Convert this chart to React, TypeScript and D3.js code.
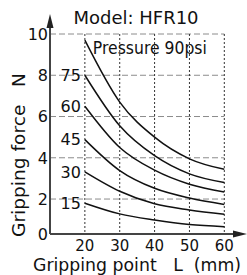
import { useEffect, useRef } from 'react';
import * as d3 from 'd3';

// gripping point L (mm) and force curves (N) per supply pressure (psi)
const gripPoints = [20, 30, 40, 50, 60];
const pressures = [90, 75, 60, 45, 30, 15];
const force90 = [9.7, 6.7, 5.0, 3.95, 3.44];
const force75 = [8.0, 5.55, 4.1, 3.22, 2.8];
const force60 = [6.5, 4.5, 3.4, 2.72, 2.34];
const force45 = [4.88, 3.38, 2.52, 2.05, 1.74];
const force30 = [3.32, 2.38, 1.77, 1.47, 1.26];
const force15 = [1.8, 1.28, 0.98, 0.76, 0.66];
const xTicks = [20, 30, 40, 50, 60];
const yTicks = [0, 2, 4, 6, 8, 10];

const FONT = '"DejaVu Sans", Verdana, sans-serif';

export default function App() {
  const ref = useRef<SVGSVGElement>(null);
  const width = 247;
  const height = 275;

  useEffect(() => {
    if (!ref.current) return;
    const svg = d3.select(ref.current);
    svg.selectAll('*').remove();

    const x = d3.scaleLinear().domain([10, 60]).range([50, 224.3]);
    const y = d3.scaleLinear().domain([0, 10]).range([240.3, 34]);
    const axisY = y(0.3); // x axis sits a bit above the 0 value in the original

    const series = [force90, force75, force60, force45, force30, force15];

    // horizontal dashed grid
    svg
      .append('g')
      .selectAll('line')
      .data(yTicks.filter((d) => d > 0))
      .join('line')
      .attr('x1', x(10))
      .attr('x2', x(60))
      .attr('y1', (d) => y(d))
      .attr('y2', (d) => y(d))
      .attr('stroke', '#8c8c8c')
      .attr('stroke-width', 1)
      .attr('stroke-dasharray', '6 3');

    // vertical dotted grid
    svg
      .append('g')
      .selectAll('line')
      .data(xTicks)
      .join('line')
      .attr('x1', (d) => x(d))
      .attr('x2', (d) => x(d))
      .attr('y1', y(10))
      .attr('y2', axisY)
      .attr('stroke', '#333')
      .attr('stroke-width', 1)
      .attr('stroke-dasharray', '2 2');

    // curves
    const line = d3
      .line<number>()
      .x((_, i) => x(gripPoints[i]))
      .y((d) => y(d))
      .curve(d3.curveMonotoneX);

    svg
      .append('g')
      .selectAll('path')
      .data(series)
      .join('path')
      .attr('d', (d) => line(d))
      .attr('fill', 'none')
      .attr('stroke', '#111')
      .attr('stroke-width', 1.5);

    // curve labels (pressure) left of the first point
    svg
      .append('g')
      .selectAll('text')
      .data(pressures.slice(1))
      .join('text')
      .attr('x', x(20) - 4)
      .attr('y', (_, i) => y(series[i + 1][0]))
      .attr('dy', '0.36em')
      .attr('text-anchor', 'end')
      .attr('font-family', FONT)
      .attr('font-size', 16)
      .attr('fill', '#111')
      .text((d) => d);

    svg
      .append('text')
      .attr('x', x(20) + 8)
      .attr('y', y(force90[0]) + 14)
      .attr('font-family', FONT)
      .attr('font-size', 17)
      .attr('fill', '#111')
      .attr('textLength', 114)
      .attr('lengthAdjust', 'spacingAndGlyphs')
      .text(`Pressure ${pressures[0]}psi`);

    // axes with arrows
    svg
      .append('line')
      .attr('x1', x(10))
      .attr('x2', x(10))
      .attr('y1', axisY)
      .attr('y2', 24)
      .attr('stroke', '#444')
      .attr('stroke-width', 2);
    svg
      .append('path')
      .attr('d', `M${x(10)},14 L${x(10) - 3.5},28 L${x(10) + 3.5},28 Z`)
      .attr('fill', '#222');
    svg
      .append('line')
      .attr('x1', x(10))
      .attr('x2', 238)
      .attr('y1', axisY)
      .attr('y2', axisY)
      .attr('stroke', '#444')
      .attr('stroke-width', 2);
    svg
      .append('path')
      .attr('d', `M247,${axisY} L233,${axisY - 3.5} L233,${axisY + 3.5} Z`)
      .attr('fill', '#222');

    // tick labels
    svg
      .append('g')
      .selectAll('text')
      .data(yTicks)
      .join('text')
      .attr('x', x(10) - 2)
      .attr('y', (d) => (d === 0 ? axisY : y(d)))
      .attr('dy', '0.36em')
      .attr('text-anchor', 'end')
      .attr('font-family', FONT)
      .attr('font-size', 16)
      .attr('fill', '#111')
      .text((d) => d);

    svg
      .append('g')
      .selectAll('text')
      .data(xTicks)
      .join('text')
      .attr('x', (d) => x(d))
      .attr('y', axisY + 17)
      .attr('text-anchor', 'middle')
      .attr('font-family', FONT)
      .attr('font-size', 15)
      .attr('fill', '#111')
      .text((d) => d);

    // titles
    svg
      .append('text')
      .attr('x', 136)
      .attr('y', 24)
      .attr('text-anchor', 'middle')
      .attr('font-family', FONT)
      .attr('font-size', 18)
      .attr('fill', '#111')
      .text('Model: HFR10');

    svg
      .append('text')
      .attr('x', 33)
      .attr('y', 271)
      .attr('font-family', FONT)
      .attr('font-size', 17)
      .attr('fill', '#111')
      .attr('textLength', 208)
      .attr('lengthAdjust', 'spacingAndGlyphs')
      .style('white-space', 'pre')
      .text('Gripping point   L  (mm)');

    svg
      .append('text')
      .attr('transform', 'translate(25,155) rotate(-90)')
      .attr('x', -82)
      .attr('font-family', FONT)
      .attr('font-size', 17)
      .attr('fill', '#111')
      .attr('textLength', 164)
      .attr('lengthAdjust', 'spacingAndGlyphs')
      .style('white-space', 'pre')
      .text('Gripping force   N');
  }, []);

  return (
    <svg
      ref={ref}
      width={width}
      height={height}
      style={{ position: 'absolute', left: 0, top: 0, background: '#fff' }}
    />
  );
}
